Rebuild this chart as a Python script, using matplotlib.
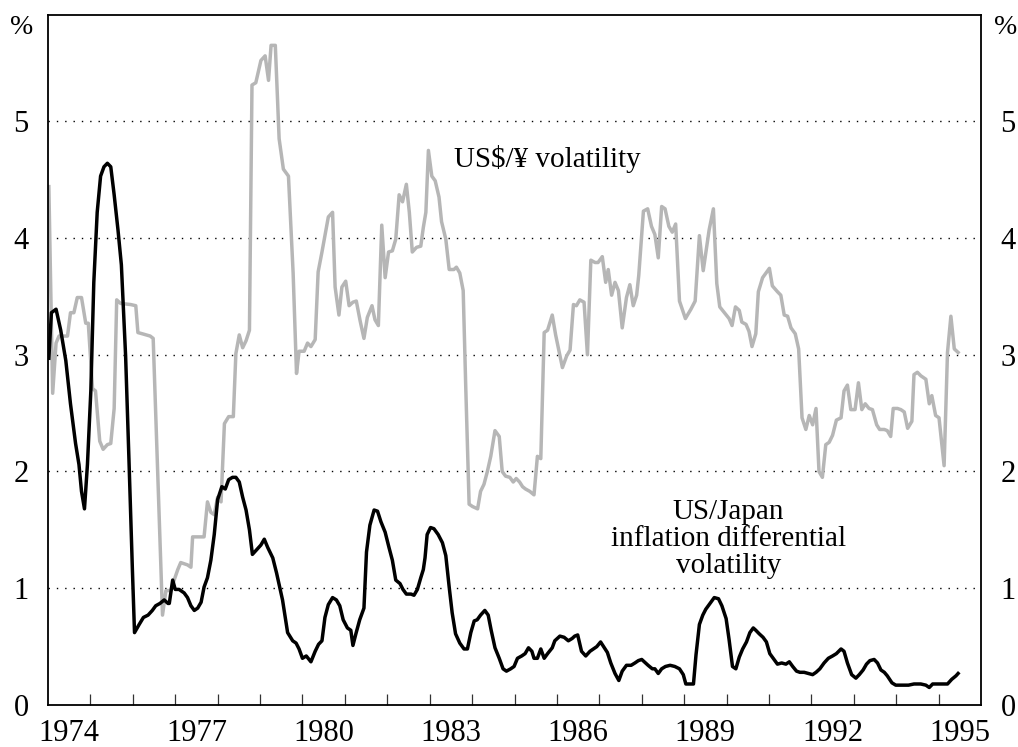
import numpy as np
import matplotlib.pyplot as plt

# US$/yen volatility (grey line), decimal years and per cent
fx_years = [1974.02, 1974.11, 1974.19, 1974.26, 1974.46, 1974.53, 1974.61, 1974.69, 1974.79, 1974.89,
            1974.95, 1975.05, 1975.12, 1975.22, 1975.30, 1975.40, 1975.48, 1975.56, 1975.62, 1975.71,
            1975.95, 1976.07, 1976.12, 1976.22, 1976.41, 1976.48, 1976.58, 1976.70, 1976.78, 1976.89,
            1977.06, 1977.13, 1977.29, 1977.37, 1977.41, 1977.68, 1977.76, 1977.84, 1977.92, 1978.00,
            1978.08, 1978.16, 1978.26, 1978.37, 1978.43, 1978.51, 1978.59, 1978.67, 1978.75, 1978.81,
            1978.90, 1979.02, 1979.12, 1979.20, 1979.26, 1979.36, 1979.45, 1979.55, 1979.67, 1979.78,
            1979.86, 1979.92, 1980.04, 1980.12, 1980.20, 1980.30, 1980.37, 1980.46, 1980.61, 1980.71,
            1980.77, 1980.86, 1980.93, 1981.02, 1981.10, 1981.19, 1981.27, 1981.36, 1981.45, 1981.53,
            1981.64, 1981.71, 1981.79, 1981.87, 1981.95, 1982.03, 1982.12, 1982.20, 1982.28, 1982.36,
            1982.45, 1982.52, 1982.59, 1982.69, 1982.79, 1982.85, 1982.91, 1982.97, 1983.05, 1983.13,
            1983.22, 1983.28, 1983.38, 1983.46, 1983.57, 1983.63, 1983.71, 1983.79, 1983.85, 1983.93,
            1984.01, 1984.13, 1984.20, 1984.28, 1984.36, 1984.44, 1984.54, 1984.64, 1984.71, 1984.79,
            1984.89, 1984.97, 1985.04, 1985.12, 1985.19, 1985.26, 1985.36, 1985.46, 1985.54, 1985.62,
            1985.70, 1985.78, 1985.89, 1985.97, 1986.13, 1986.23, 1986.31, 1986.39, 1986.46, 1986.54,
            1986.64, 1986.72, 1986.80, 1986.90, 1986.97, 1987.07, 1987.15, 1987.21, 1987.29, 1987.37,
            1987.45, 1987.54, 1987.64, 1987.72, 1987.80, 1987.88, 1987.93, 1988.04, 1988.14, 1988.23,
            1988.31, 1988.39, 1988.47, 1988.55, 1988.64, 1988.72, 1988.80, 1988.89, 1989.03, 1989.16,
            1989.26, 1989.36, 1989.45, 1989.59, 1989.69, 1989.77, 1989.84, 1989.95, 1990.06, 1990.13,
            1990.21, 1990.30, 1990.36, 1990.46, 1990.53, 1990.60, 1990.69, 1990.75, 1990.85, 1991.01,
            1991.08, 1991.20, 1991.28, 1991.36, 1991.44, 1991.52, 1991.62, 1991.70, 1991.78, 1991.87,
            1991.95, 1992.03, 1992.11, 1992.18, 1992.26, 1992.34, 1992.42, 1992.50, 1992.59, 1992.70,
            1992.77, 1992.85, 1992.93, 1993.03, 1993.11, 1993.19, 1993.27, 1993.36, 1993.44, 1993.54,
            1993.61, 1993.72, 1993.79, 1993.87, 1993.93, 1994.03, 1994.11, 1994.19, 1994.27, 1994.37,
            1994.42, 1994.50, 1994.58, 1994.70, 1994.78, 1994.84, 1994.93, 1995.01, 1995.13, 1995.21,
            1995.29, 1995.37, 1995.46]
fx_vol = [4.44, 2.67, 3.10, 3.16, 3.16, 3.36, 3.36, 3.49, 3.49, 3.27,
          3.27, 2.71, 2.69, 2.26, 2.19, 2.23, 2.24, 2.54, 3.47, 3.44,
          3.43, 3.42, 3.19, 3.18, 3.16, 3.14, 2.06, 0.77, 0.98, 0.98,
          1.16, 1.22, 1.20, 1.18, 1.44, 1.44, 1.74, 1.65, 1.63, 1.78,
          1.74, 2.41, 2.47, 2.47, 3.01, 3.17, 3.06, 3.12, 3.21, 5.31,
          5.33, 5.52, 5.56, 5.35, 5.65, 5.65, 4.85, 4.59, 4.53, 3.70,
          2.84, 3.03, 3.03, 3.10, 3.07, 3.13, 3.71, 3.88, 4.18, 4.22,
          3.58, 3.34, 3.58, 3.63, 3.42, 3.45, 3.46, 3.29, 3.14, 3.32,
          3.42, 3.30, 3.25, 4.11, 3.66, 3.88, 3.89, 3.99, 4.37, 4.31,
          4.46, 4.22, 3.88, 3.92, 3.93, 4.09, 4.22, 4.75, 4.53, 4.49,
          4.35, 4.14, 3.99, 3.73, 3.73, 3.75, 3.70, 3.55, 2.73, 1.72,
          1.70, 1.68, 1.83, 1.89, 2.00, 2.13, 2.35, 2.30, 2.00, 1.96,
          1.95, 1.91, 1.94, 1.91, 1.87, 1.85, 1.83, 1.80, 2.13, 2.11,
          3.19, 3.21, 3.34, 3.17, 2.89, 2.99, 3.04, 3.43, 3.42, 3.47,
          3.45, 3.00, 3.81, 3.79, 3.79, 3.84, 3.62, 3.73, 3.51, 3.62,
          3.55, 3.23, 3.49, 3.60, 3.42, 3.51, 3.68, 4.23, 4.25, 4.10,
          4.03, 3.83, 4.27, 4.25, 4.10, 4.05, 4.12, 3.46, 3.31, 3.39,
          3.46, 4.02, 3.72, 4.07, 4.25, 3.61, 3.41, 3.36, 3.31, 3.25,
          3.41, 3.38, 3.28, 3.26, 3.20, 3.07, 3.18, 3.54, 3.66, 3.74,
          3.59, 3.54, 3.51, 3.34, 3.33, 3.23, 3.18, 3.05, 2.46, 2.36,
          2.48, 2.40, 2.54, 2.00, 1.95, 2.23, 2.25, 2.31, 2.44, 2.46,
          2.69, 2.74, 2.53, 2.53, 2.76, 2.53, 2.58, 2.54, 2.53, 2.40,
          2.36, 2.36, 2.35, 2.30, 2.54, 2.54, 2.53, 2.51, 2.37, 2.43,
          2.83, 2.85, 2.82, 2.79, 2.58, 2.65, 2.48, 2.46, 2.05, 3.02,
          3.33, 3.05, 3.02]

# US/Japan inflation differential volatility (black line)
infl_years = [1974.02, 1974.08, 1974.19, 1974.30, 1974.42, 1974.53, 1974.65, 1974.73, 1974.79, 1974.86,
              1974.93, 1975.01, 1975.08, 1975.16, 1975.24, 1975.32, 1975.40, 1975.48, 1975.56, 1975.65,
              1975.73, 1975.83, 1975.91, 1975.99, 1976.04, 1976.15, 1976.25, 1976.36, 1976.46, 1976.54,
              1976.64, 1976.74, 1976.83, 1976.86, 1976.94, 1977.00, 1977.09, 1977.21, 1977.29, 1977.37,
              1977.45, 1977.53, 1977.61, 1977.68, 1977.76, 1977.84, 1977.92, 1978.00, 1978.10, 1978.18,
              1978.26, 1978.35, 1978.43, 1978.51, 1978.59, 1978.67, 1978.75, 1978.82, 1978.92, 1979.02,
              1979.10, 1979.18, 1979.30, 1979.39, 1979.53, 1979.65, 1979.77, 1979.85, 1979.92, 1980.00,
              1980.09, 1980.20, 1980.30, 1980.38, 1980.46, 1980.53, 1980.61, 1980.71, 1980.80, 1980.88,
              1980.96, 1981.06, 1981.14, 1981.19, 1981.26, 1981.35, 1981.45, 1981.51, 1981.59, 1981.69,
              1981.77, 1981.85, 1981.95, 1982.04, 1982.12, 1982.20, 1982.30, 1982.37, 1982.45, 1982.56,
              1982.63, 1982.71, 1982.79, 1982.85, 1982.89, 1982.94, 1983.02, 1983.10, 1983.20, 1983.30,
              1983.38, 1983.46, 1983.53, 1983.61, 1983.71, 1983.81, 1983.89, 1983.97, 1984.05, 1984.12,
              1984.20, 1984.30, 1984.38, 1984.45, 1984.54, 1984.64, 1984.73, 1984.81, 1984.91, 1984.99,
              1985.07, 1985.17, 1985.25, 1985.33, 1985.41, 1985.46, 1985.54, 1985.62, 1985.70, 1985.78,
              1985.89, 1985.95, 1986.07, 1986.17, 1986.27, 1986.36, 1986.42, 1986.49, 1986.58, 1986.68,
              1986.78, 1986.86, 1986.94, 1987.03, 1987.12, 1987.19, 1987.27, 1987.37, 1987.46, 1987.54,
              1987.64, 1987.75, 1987.84, 1987.92, 1988.00, 1988.09, 1988.15, 1988.25, 1988.31, 1988.39,
              1988.47, 1988.56, 1988.67, 1988.78, 1988.89, 1988.98, 1989.04, 1989.22, 1989.28, 1989.36,
              1989.44, 1989.51, 1989.61, 1989.71, 1989.81, 1989.89, 1989.99, 1990.06, 1990.14, 1990.22,
              1990.30, 1990.38, 1990.47, 1990.55, 1990.63, 1990.69, 1990.77, 1990.86, 1990.94, 1991.02,
              1991.10, 1991.20, 1991.30, 1991.40, 1991.48, 1991.56, 1991.65, 1991.73, 1991.83, 1991.93,
              1992.03, 1992.11, 1992.20, 1992.30, 1992.40, 1992.50, 1992.59, 1992.70, 1992.77, 1992.85,
              1992.95, 1993.05, 1993.13, 1993.22, 1993.30, 1993.38, 1993.48, 1993.56, 1993.64, 1993.72,
              1993.79, 1993.90, 1993.99, 1994.15, 1994.29, 1994.42, 1994.58, 1994.70, 1994.78, 1994.86,
              1994.97, 1995.09, 1995.21, 1995.31, 1995.41, 1995.46]
infl_vol = [2.97, 3.36, 3.39, 3.21, 2.95, 2.58, 2.24, 2.06, 1.83, 1.68,
            2.06, 2.69, 3.62, 4.22, 4.53, 4.61, 4.64, 4.61, 4.37, 4.07,
            3.77, 2.99, 2.09, 1.16, 0.62, 0.69, 0.75, 0.77, 0.81, 0.85,
            0.87, 0.90, 0.87, 0.87, 1.07, 0.99, 0.99, 0.96, 0.92, 0.85,
            0.81, 0.83, 0.88, 1.01, 1.09, 1.24, 1.46, 1.76, 1.87, 1.85,
            1.93, 1.95, 1.95, 1.91, 1.78, 1.67, 1.50, 1.29, 1.33, 1.37,
            1.42, 1.35, 1.26, 1.13, 0.90, 0.62, 0.55, 0.53, 0.48, 0.40,
            0.42, 0.37, 0.46, 0.52, 0.55, 0.75, 0.86, 0.92, 0.90, 0.85,
            0.73, 0.66, 0.64, 0.51, 0.61, 0.73, 0.83, 1.31, 1.54, 1.67,
            1.66, 1.57, 1.48, 1.35, 1.24, 1.07, 1.04, 0.99, 0.95, 0.95,
            0.94, 0.99, 1.09, 1.16, 1.26, 1.46, 1.52, 1.51, 1.46, 1.39,
            1.28, 1.01, 0.79, 0.61, 0.53, 0.48, 0.48, 0.62, 0.72, 0.73,
            0.77, 0.81, 0.77, 0.64, 0.49, 0.40, 0.31, 0.29, 0.31, 0.33,
            0.40, 0.42, 0.44, 0.49, 0.46, 0.40, 0.40, 0.48, 0.40, 0.44,
            0.49, 0.55, 0.59, 0.58, 0.55, 0.57, 0.59, 0.60, 0.46, 0.42,
            0.46, 0.48, 0.50, 0.54, 0.49, 0.45, 0.36, 0.27, 0.21, 0.29,
            0.34, 0.34, 0.36, 0.38, 0.39, 0.36, 0.34, 0.31, 0.31, 0.27,
            0.31, 0.33, 0.34, 0.33, 0.31, 0.26, 0.18, 0.18, 0.43, 0.69,
            0.77, 0.82, 0.87, 0.92, 0.91, 0.85, 0.74, 0.56, 0.33, 0.31,
            0.41, 0.48, 0.54, 0.62, 0.66, 0.64, 0.61, 0.58, 0.54, 0.44,
            0.40, 0.35, 0.36, 0.35, 0.37, 0.33, 0.29, 0.28, 0.28, 0.27,
            0.26, 0.28, 0.31, 0.36, 0.40, 0.42, 0.44, 0.48, 0.46, 0.36,
            0.26, 0.23, 0.26, 0.30, 0.35, 0.38, 0.39, 0.36, 0.30, 0.28,
            0.25, 0.19, 0.17, 0.17, 0.17, 0.18, 0.18, 0.17, 0.15, 0.18,
            0.18, 0.18, 0.18, 0.22, 0.25, 0.27]

year_labels = [1974, 1977, 1980, 1983, 1986, 1989, 1992, 1995]
y_ticks = [0, 1, 2, 3, 4, 5]

plt.rcParams['font.family'] = ['Liberation Serif', 'DejaVu Serif']
plt.rcParams['font.size'] = 22

fig = plt.figure(figsize=(10.18, 7.47), dpi=100)
ax = fig.add_axes([48 / 1018, 1 - 705 / 747, (981 - 48) / 1018, (705 - 15) / 747])

ax.plot(fx_years, fx_vol, color='#b6b6b6', lw=2.5, zorder=2)
ax.plot(infl_years, infl_vol, color='black', lw=2.5, zorder=3)

ax.set_xlim(1974, 1996)
ax.set_ylim(0, 5.91)

for v in y_ticks[1:]:
    ax.axhline(v, color='black', lw=1.0, linestyle=(0, (1, 5)), zorder=1)

# year tick marks at year starts, labels centred in the year
ax.set_xticks(np.arange(1975, 1996))
ax.set_xticklabels([])
ax.tick_params(axis='x', which='major', direction='in', length=8, width=0.9, color='#333333')
ax.set_xticks([y + 0.5 for y in year_labels], minor=True)
ax.set_xticklabels([str(y) for y in year_labels], minor=True)
ax.tick_params(axis='x', which='minor', length=0, pad=10)

ax.set_yticks(y_ticks)
ax.set_yticklabels([str(v) for v in y_ticks])
ax.tick_params(axis='y', length=0, labelleft=True, labelright=True, pad=14)

for s in ax.spines.values():
    s.set_linewidth(1.3)

fig.text(33 / 1018, 1 - 27 / 747, '%', ha='right', va='center', fontsize=20)
fig.text(994 / 1018, 1 - 27 / 747, '%', ha='left', va='center', fontsize=20)

ax.text(1985.77, 4.68, 'US$/¥ volatility', ha='center', va='center', fontsize=21)
ax.text(1990.04, 1.42, 'US/Japan\ninflation differential\nvolatility', ha='center', va='center',
        fontsize=21, linespacing=1.05)

plt.savefig('out.png', dpi=100)
